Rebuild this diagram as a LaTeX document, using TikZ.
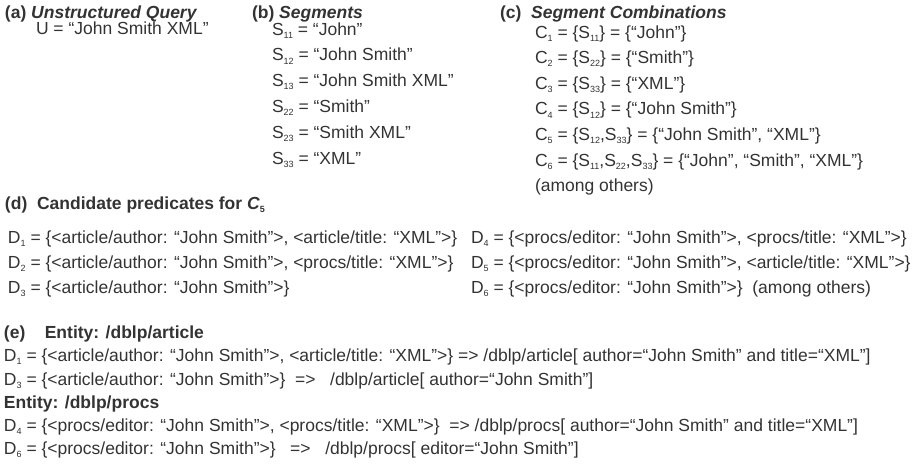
\documentclass[tikz,border=0pt]{standalone}
\usepackage{fontspec}
\setmainfont{Liberation Sans}
\definecolor{txt}{HTML}{333333}
\newcommand\sbs[1]{\raisebox{-3.2pt}{\fontsize{9}{9}\selectfont #1}}
\tikzset{
  t/.style={anchor=base west,inner sep=0pt,outer sep=0pt,text=txt,font=\fontsize{17.5}{21}\selectfont},
  hd/.style={t,font=\fontsize{17.5}{21}\selectfont\bfseries}
}
\begin{document}
\begin{tikzpicture}[x=1pt,y=-1pt]
\useasboundingbox (0,0) rectangle (922,475);
% (a)
\node[hd] (ah) at (5,18) {(a) \textit{Unstructured Query}};
\node[t] (u) at (36,34) {U = “John Smith XML”};
% (b)
\node[hd] (bh) at (252,18) {(b) \textit{Segments}};
\node[t] (s11) at (272,35) {S\sbs{11} = “John”};
\node[t] (s12) at (272,60.8) {S\sbs{12} = “John Smith”};
\node[t] (s13) at (272,86.6) {S\sbs{13} = “John Smith XML”};
\node[t] (s22) at (272,112.4) {S\sbs{22} = “Smith”};
\node[t] (s23) at (272,138.2) {S\sbs{23} = “Smith XML”};
\node[t] (s33) at (272,164) {S\sbs{33} = “XML”};
% (c)
\node[hd] (ch) at (500,18) {(c)\ \ \textit{Segment Combinations}};
\node[t] (c1) at (535,38) {C\sbs{1} = \{S\sbs{11}\} = \{“John”\}};
\node[t] (c2) at (535,63.6) {C\sbs{2} = \{S\sbs{22}\} = \{“Smith”\}};
\node[t] (c3) at (535,89.2) {C\sbs{3} = \{S\sbs{33}\} = \{“XML”\}};
\node[t] (c4) at (535,114.8) {C\sbs{4} = \{S\sbs{12}\} = \{“John Smith”\}};
\node[t] (c5) at (535,140.4) {C\sbs{5} = \{S\sbs{12},S\sbs{33}\} = \{“John Smith”, “XML”\}};
\node[t] (c6) at (535,166) {C\sbs{6} = \{S\sbs{11},S\sbs{22},S\sbs{33}\} = \{“John”, “Smith”, “XML”\}};
\node[t] (co) at (535,191) {(among others)};
% (d)
\node[hd] (dh) at (5,209) {(d)\ \ Candidate predicates for \textit{C}\sbs{5}};
\node[t] (d1) at (8,243) {D\sbs{1} = \{<article/author: “John Smith”>, <article/title: “XML”>\}};
\node[t] (d2) at (8,268) {D\sbs{2} = \{<article/author: “John Smith”>, <procs/title: “XML”>\}};
\node[t] (d3) at (8,293) {D\sbs{3} = \{<article/author: “John Smith”>\}};
\node[t] (d4) at (471,243) {D\sbs{4} = \{<procs/editor: “John Smith”>, <procs/title: “XML”>\}};
\node[t] (d5) at (471,268) {D\sbs{5} = \{<procs/editor: “John Smith”>, <article/title: “XML”>\}};
\node[t] (d6) at (471,293) {D\sbs{6} = \{<procs/editor: “John Smith”>\}\ \ (among others)};
% (e)
\node[hd] (eh) at (4,338) {(e)\ \ \ \ Entity: /dblp/article};
\node[t] (e1) at (4,361) {D\sbs{1} = \{<article/author: “John Smith”>, <article/title: “XML”>\} => /dblp/article[ author=“John Smith” and title=“XML”]};
\node[t] (e3) at (4,385) {D\sbs{3} = \{<article/author: “John Smith”>\}\ \ =>\ \ \ /dblp/article[ author=“John Smith”]};
\node[hd] (ep) at (4,408) {Entity: /dblp/procs};
\node[t] (e4) at (4,431) {D\sbs{4} = \{<procs/editor: “John Smith”>, <procs/title: “XML”>\}\ \ => /dblp/procs[ author=“John Smith” and title=“XML”]};
\node[t] (e6) at (4,454) {D\sbs{6} = \{<procs/editor: “John Smith”>\}\ \ \ =>\ \ \ /dblp/procs[ editor=“John Smith”]};
\end{tikzpicture}
\end{document}
